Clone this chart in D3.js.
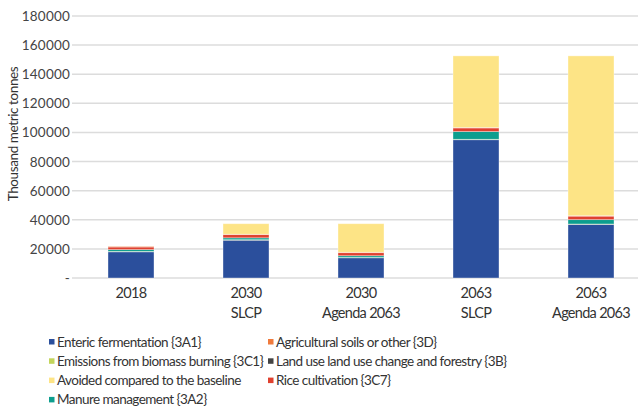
<!DOCTYPE html>
<html>
<head>
<meta charset="utf-8">
<script src="https://d3js.org/d3.v7.min.js"></script>
<style>
  body { margin: 0; background: #fff; }
  text { font-family: Lato, "Open Sans", sans-serif; }
</style>
</head>
<body>
<svg id="chart" width="638" height="411"></svg>
<script>
// data (thousand metric tonnes)
const categories = [["2018"], ["2030", "SLCP"], ["2030", "Agenda 2063"], ["2063", "SLCP"], ["2063", "Agenda 2063"]];
const enteric  = [18000, 26000, 13900, 95000, 36900];
const biomass  = [300, 300, 200, 300, 200];
const manure   = [1200, 1300, 1200, 5300, 3000];
const lulucf   = [0, 0, 0, 0, 0];
const rice     = [1800, 2200, 2100, 2500, 2400];
const soils    = [400, 300, 300, 300, 300];
const avoided  = [0, 7200, 19600, 49200, 109800];
const yTicks   = [0, 20000, 40000, 60000, 80000, 100000, 120000, 140000, 160000, 180000];

const series = [
  { key: "enteric", name: "Enteric fermentation {3A1}", values: enteric, color: "#2b4f9c" },
  { key: "biomass", name: "Emissions from biomass burning {3C1}", values: biomass, color: "#c3d55b" },
  { key: "manure", name: "Manure management {3A2}", values: manure, color: "#0d9e8e" },
  { key: "lulucf", name: "Land use land use change and forestry {3B}", values: lulucf, color: "#444444" },
  { key: "rice", name: "Rice cultivation {3C7}", values: rice, color: "#e0412f" },
  { key: "soils", name: "Agricultural soils or other {3D}", values: soils, color: "#f07a3c" },
  { key: "avoided", name: "Avoided compared to the baseline", values: avoided, color: "#fde486" }
];
// legend layout order as in the picture (two columns)
const legendOrder = ["enteric", "soils", "biomass", "lulucf", "avoided", "rice", "manure"];

const svg = d3.select("#chart");

const x = d3.scaleBand()
  .domain(categories.map((d, i) => i))
  .range([73.5, 648.5])
  .paddingInner(0.6)
  .paddingOuter(0.3);

const y = d3.scaleLinear().domain([0, 180000]).range([278, 16]);

// gridlines
svg.append("g")
  .selectAll("line")
  .data(yTicks)
  .enter().append("line")
  .attr("x1", 72).attr("x2", 638)
  .attr("y1", d => y(d)).attr("y2", d => y(d))
  .attr("stroke", "#dcdcdc")
  .attr("stroke-width", 1.5);

// y axis labels
svg.append("g")
  .selectAll("text")
  .data(yTicks)
  .enter().append("text")
  .attr("x", 70)
  .attr("y", d => y(d) + 5)
  .attr("text-anchor", "end")
  .attr("font-size", 13.5)
  .attr("letter-spacing", 0.2)
  .attr("fill", "#444")
  .text(d => d === 0 ? "-" : d);

svg.append("text")
  .attr("transform", "translate(18,134) rotate(-90)")
  .attr("text-anchor", "middle")
  .attr("font-size", 13.5)
  .attr("letter-spacing", -0.4)
  .attr("fill", "#333")
  .text("Thousand metric tonnes");

// stacked bars
const rows = categories.map((c, i) => {
  const r = { i: i };
  series.forEach(s => { r[s.key] = s.values[i]; });
  return r;
});
const stack = d3.stack().keys(series.map(s => s.key));
const layers = stack(rows);

svg.append("g")
  .selectAll("g")
  .data(layers)
  .enter().append("g")
  .attr("fill", (d, i) => series[i].color)
  .selectAll("rect")
  .data(d => d.filter(p => p[1] > p[0]))
  .enter().append("rect")
  .attr("x", d => x(d.data.i))
  .attr("width", x.bandwidth())
  .attr("y", d => y(d[1]))
  .attr("height", d => y(d[0]) - y(d[1]))
  .attr("stroke", "rgba(255,255,255,0.45)")
  .attr("stroke-width", 0.8);

// x labels
const xl = svg.append("g")
  .selectAll("text")
  .data(categories)
  .enter().append("text")
  .attr("x", (d, i) => x(i) + x.bandwidth() / 2)
  .attr("y", 298)
  .attr("text-anchor", "middle")
  .attr("font-size", 14.5)
  .attr("letter-spacing", -0.7)
  .attr("fill", "#333");
xl.selectAll("tspan")
  .data(d => d)
  .enter().append("tspan")
  .attr("x", function () { return d3.select(this.parentNode).attr("x"); })
  .attr("dy", (d, j) => j === 0 ? 0 : 20)
  .text(d => d);

// legend
const legend = svg.append("g");
legendOrder.forEach((k, idx) => {
  const s = series.find(q => q.key === k);
  const col = idx % 2, row = Math.floor(idx / 2);
  const lx = col === 0 ? 49 : 268;
  const ly = 342 + row * 19.3;
  legend.append("rect")
    .attr("x", lx).attr("y", ly - 3)
    .attr("width", 5.5).attr("height", 5.5)
    .attr("fill", s.color);
  legend.append("text")
    .attr("x", lx + 8).attr("y", ly + 4.5)
    .attr("font-size", 13.5)
    .attr("letter-spacing", -0.55)
    .attr("fill", "#333")
    .text(s.name);
});
</script>
</body>
</html>
